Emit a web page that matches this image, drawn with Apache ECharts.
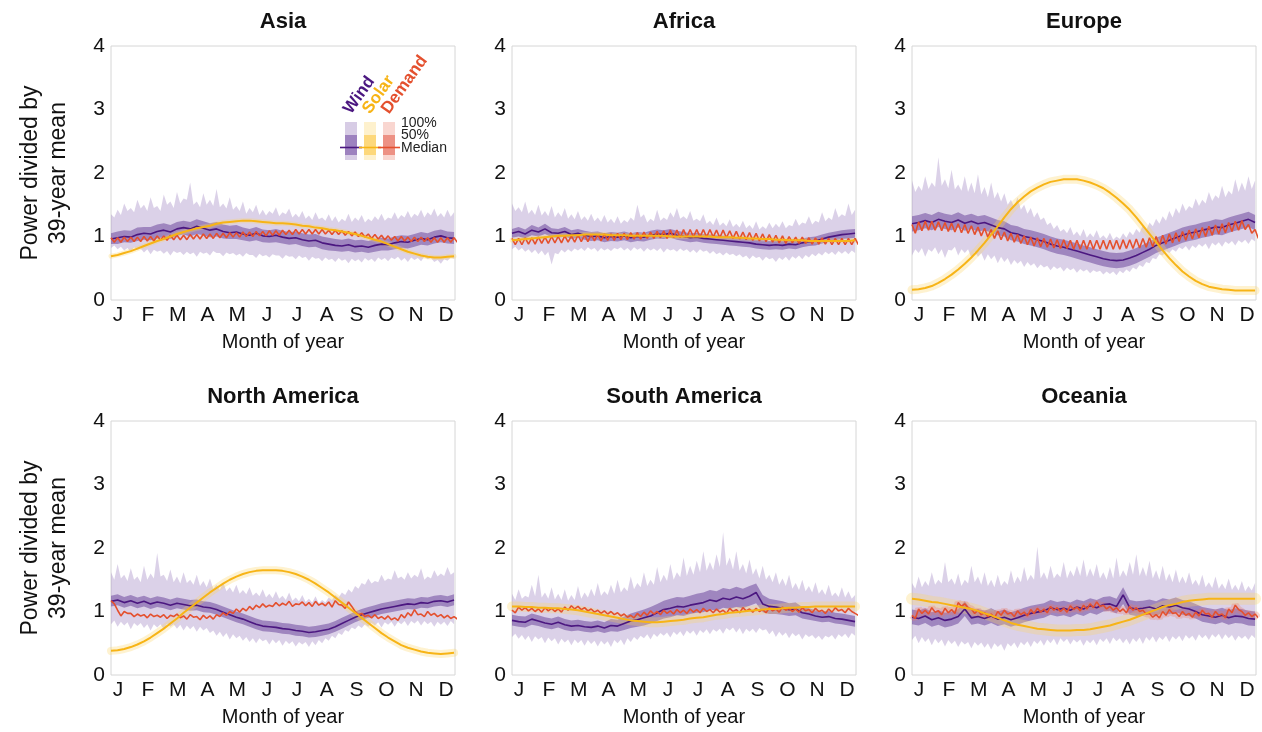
<!DOCTYPE html>
<html><head><meta charset="utf-8">
<script src="https://cdn.jsdelivr.net/npm/echarts@6/dist/echarts.min.js"></script>
<style>html,body{margin:0;padding:0;background:#fff}#c{width:1262px;height:732px}</style>
</head><body><div id="c"></div>
<script>
// ---------- tick labels / names ----------
const months = ['J','F','M','A','M','J','J','A','S','O','N','D'];
const regions = ['Asia','Africa','Europe','North America','South America','Oceania'];
const yName = 'Power divided by\n39-year mean';
const xName = 'Month of year';
// weekly values: day 0, 7, ... 364 (53 values). "Mid" arrays / demand dips sit half a week later (day 7i+3.5).

// ---------- Asia ----------
const asiaWindMed = [.96,.98,1.00,.99,1.03,1.05,1.04,1.08,1.10,1.07,
 1.12,1.14,1.12,1.16,1.13,1.10,1.12,1.08,1.06,1.07,
 1.04,1.02,1.05,1.01,1.00,1.02,.99,.97,.98,.95,
 .93,.94,.90,.88,.86,.85,.87,.84,.85,.83,
 .86,.88,.87,.90,.92,.91,.94,.97,.95,.99,
 1.01,.98,.97];
const asiaWindLo50 = [.88,.88,.91,.90,.93,.95,.94,.97,.99,.96,
 1.01,1.03,1.00,1.04,1.02,.99,1.00,.97,.96,.96,
 .94,.92,.94,.91,.90,.91,.89,.87,.88,.85,
 .83,.84,.80,.78,.77,.76,.77,.75,.76,.74,
 .76,.78,.78,.80,.82,.81,.84,.87,.86,.89,
 .91,.89,.88];
const asiaWindHi50 = [1.05,1.08,1.10,1.09,1.14,1.15,1.15,1.19,1.21,1.18,
 1.23,1.25,1.23,1.27,1.24,1.21,1.23,1.19,1.17,1.18,
 1.14,1.12,1.15,1.11,1.10,1.12,1.09,1.07,1.08,1.05,
 1.03,1.04,1.00,.98,.96,.95,.97,.94,.95,.93,
 .96,.98,.97,1.00,1.02,1.01,1.04,1.07,1.05,1.09,
 1.11,1.08,1.07];
const asiaWindLo100 = [.82,.80,.78,.76,.79,.75,.72,.76,.73,.70,
 .74,.71,.72,.68,.73,.70,.74,.69,.72,.70,
 .68,.71,.66,.69,.67,.70,.65,.68,.64,.66,
 .62,.65,.61,.63,.60,.62,.58,.61,.59,.62,
 .60,.63,.61,.64,.62,.60,.63,.61,.64,.60,
 .57,.62,.65];
const asiaWindLo100Mid = [.86,.84,.82,.83,.81,.80,.79,.78,.77,.77,
 .76,.76,.75,.76,.75,.77,.74,.75,.74,.73,
 .74,.71,.73,.71,.72,.70,.71,.69,.70,.68,
 .68,.66,.67,.65,.66,.64,.65,.64,.66,.65,
 .67,.66,.67,.68,.66,.67,.66,.68,.66,.63,
 .64,.67];
const asiaWindHi100 = [1.35,1.42,1.52,1.45,1.58,1.50,1.62,1.48,1.66,1.55,
 1.70,1.60,1.85,1.55,1.68,1.58,1.75,1.52,1.62,1.48,
 1.55,1.45,1.50,1.42,1.40,1.46,1.38,1.44,1.36,1.40,
 1.33,1.38,1.30,1.35,1.32,1.28,1.36,1.30,1.34,1.28,
 1.32,1.36,1.30,1.38,1.34,1.40,1.36,1.42,1.38,1.44,
 1.37,1.42,1.38];
const asiaWindHi100Mid = [1.30,1.34,1.40,1.38,1.44,1.40,1.45,1.40,1.50,1.45,
 1.52,1.58,1.50,1.46,1.50,1.48,1.46,1.44,1.42,1.40,
 1.36,1.38,1.34,1.33,1.36,1.32,1.35,1.30,1.30,1.28,
 1.26,1.27,1.25,1.24,1.22,1.24,1.23,1.25,1.22,1.24,
 1.26,1.25,1.28,1.27,1.30,1.29,1.32,1.30,1.33,1.31,
 1.30,1.31];
const asiaSolar = [.69,.71,.74,.77,.81,.85,.89,.93,.96,1.00,
 1.04,1.07,1.10,1.13,1.15,1.17,1.20,1.22,1.23,1.24,
 1.25,1.25,1.24,1.23,1.22,1.21,1.21,1.20,1.19,1.17,
 1.16,1.14,1.13,1.11,1.10,1.08,1.06,1.04,1.01,.98,
 .95,.92,.88,.84,.80,.76,.73,.70,.68,.67,
 .67,.68,.69];
const asiaDemandPeak = [.98,.98,.99,.99,.99,1.00,1.00,1.01,1.01,1.02,
 1.02,1.02,1.03,1.03,1.04,1.04,1.05,1.05,1.06,1.06,
 1.07,1.07,1.08,1.08,1.09,1.09,1.10,1.10,1.11,1.11,
 1.11,1.11,1.11,1.10,1.10,1.09,1.08,1.07,1.06,1.04,
 1.03,1.02,1.01,1.00,1.00,.99,.99,.99,.98,.98,
 .98,.98,.98];
const asiaDemandDip = [.91,.91,.92,.92,.92,.93,.93,.94,.94,.95,
 .95,.95,.96,.96,.97,.97,.98,.98,.99,.99,
 1.00,1.00,1.01,1.01,1.02,1.02,1.03,1.03,1.04,1.04,
 1.04,1.04,1.04,1.03,1.03,1.02,1.01,1.00,.99,.97,
 .96,.95,.94,.93,.93,.92,.92,.92,.91,.91,
 .91,.91,.91];

// ---------- Africa ----------
const africaWindMed = [1.05,1.08,1.04,1.10,1.07,1.12,1.06,1.05,1.08,1.03,
 1.05,1.02,1.00,1.01,.98,1.00,.99,1.01,.98,1.00,
 .99,1.02,1.04,1.03,1.05,1.02,1.00,.98,.99,.97,
 .96,.95,.94,.93,.92,.91,.90,.88,.87,.86,
 .87,.86,.88,.87,.90,.92,.93,.96,.99,1.01,
 1.03,1.04,1.05];
const africaWindLo50 = [.98,1.00,.97,1.02,1.00,1.04,.99,.98,1.00,.96,
 .98,.95,.93,.94,.91,.93,.92,.94,.91,.93,
 .92,.95,.97,.96,.98,.95,.93,.91,.92,.90,
 .89,.88,.87,.86,.85,.84,.83,.81,.80,.79,
 .80,.79,.81,.80,.83,.85,.86,.89,.92,.94,
 .96,.97,.98];
const africaWindHi50 = [1.12,1.15,1.11,1.18,1.14,1.20,1.13,1.12,1.15,1.10,
 1.12,1.09,1.07,1.08,1.05,1.07,1.06,1.08,1.05,1.07,
 1.06,1.09,1.11,1.10,1.12,1.09,1.07,1.05,1.06,1.04,
 1.03,1.02,1.01,1.00,.99,.98,.97,.95,.94,.93,
 .94,.93,.95,.94,.97,.99,1.00,1.03,1.06,1.08,
 1.10,1.11,1.12];
const africaWindLo100 = [.80,.78,.76,.74,.72,.70,.56,.72,.75,.76,
 .78,.77,.79,.76,.78,.77,.80,.78,.77,.79,
 .76,.78,.77,.75,.78,.76,.77,.75,.74,.76,
 .73,.72,.70,.71,.69,.67,.64,.66,.62,.64,
 .60,.63,.62,.65,.64,.67,.69,.70,.72,.71,
 .73,.72,.74];
const africaWindLo100Mid = [.84,.82,.80,.79,.78,.76,.74,.79,.80,.81,
 .82,.83,.82,.82,.81,.82,.83,.82,.83,.82,
 .82,.81,.82,.81,.80,.81,.80,.79,.80,.78,
 .77,.75,.75,.73,.72,.70,.70,.68,.68,.66,
 .67,.68,.69,.70,.71,.73,.74,.76,.76,.77,
 .77,.78];
const africaWindHi100 = [1.52,1.46,1.55,1.42,1.50,1.40,1.48,1.38,1.45,1.35,
 1.40,1.32,1.36,1.30,1.34,1.28,1.32,1.26,1.30,1.50,
 1.35,1.28,1.42,1.30,1.38,1.45,1.32,1.40,1.28,1.35,
 1.25,1.30,1.22,1.27,1.20,1.25,1.18,1.24,1.16,1.22,
 1.20,1.24,1.18,1.28,1.22,1.32,1.25,1.38,1.30,1.45,
 1.35,1.52,1.42];
const africaWindHi100Mid = [1.40,1.38,1.36,1.34,1.33,1.32,1.30,1.31,1.28,1.27,
 1.26,1.25,1.24,1.23,1.22,1.21,1.20,1.22,1.25,1.30,
 1.22,1.24,1.25,1.26,1.30,1.28,1.27,1.25,1.24,1.20,
 1.18,1.17,1.16,1.15,1.14,1.13,1.12,1.11,1.12,1.13,
 1.14,1.13,1.16,1.17,1.20,1.19,1.22,1.24,1.26,1.30,
 1.32,1.34];
const africaSolar = [.94,.95,.96,.97,.98,.99,1.00,1.01,1.01,1.02,
 1.02,1.03,1.03,1.03,1.03,1.02,1.02,1.02,1.01,1.01,
 1.01,1.01,1.01,1.01,1.00,1.00,1.00,1.00,1.00,1.00,
 1.00,.99,.99,.99,.98,.98,.97,.97,.96,.96,
 .95,.95,.94,.94,.94,.93,.93,.93,.93,.93,
 .93,.93,.94];
const africaDemandPeak = [.97,.97,.98,.98,.99,.99,1.00,1.00,1.01,1.01,
 1.02,1.02,1.03,1.03,1.04,1.04,1.05,1.05,1.06,1.06,
 1.07,1.07,1.08,1.09,1.10,1.10,1.11,1.11,1.11,1.11,
 1.11,1.10,1.10,1.09,1.08,1.07,1.06,1.05,1.04,1.03,
 1.02,1.01,1.00,.99,.99,.98,.98,.98,.97,.97,
 .97,.97,.97];
const africaDemandDip = [.87,.87,.88,.88,.89,.89,.90,.90,.91,.91,
 .92,.92,.93,.93,.94,.94,.95,.95,.96,.96,
 .97,.97,.98,.97,.98,.98,.99,.99,.99,.99,
 .99,.98,.98,.97,.96,.95,.94,.93,.92,.91,
 .90,.89,.90,.89,.89,.88,.88,.88,.87,.87,
 .87,.87,.87];

// ---------- Europe ----------
const europeWindMed = [1.20,1.22,1.25,1.22,1.27,1.24,1.22,1.26,1.21,1.24,
 1.20,1.22,1.18,1.14,1.12,1.06,1.04,1.00,.98,.95,
 .92,.88,.85,.83,.80,.77,.74,.71,.68,.65,
 .63,.62,.63,.66,.70,.75,.80,.86,.90,.94,
 .98,1.02,1.05,1.07,1.10,1.12,1.15,1.14,1.18,1.21,
 1.24,1.27,1.22];
const europeWindLo50 = [1.08,1.10,1.13,1.10,1.15,1.12,1.10,1.14,1.09,1.12,
 1.08,1.10,1.06,1.02,1.00,.94,.92,.88,.86,.83,
 .80,.76,.73,.71,.68,.65,.62,.59,.56,.53,
 .51,.50,.51,.54,.58,.63,.68,.74,.78,.82,
 .86,.90,.93,.95,.98,1.00,1.03,1.02,1.06,1.09,
 1.12,1.15,1.10];
const europeWindHi50 = [1.32,1.34,1.37,1.34,1.39,1.36,1.34,1.38,1.33,1.36,
 1.32,1.34,1.30,1.26,1.24,1.18,1.16,1.12,1.10,1.07,
 1.04,1.00,.97,.95,.92,.89,.86,.83,.80,.77,
 .75,.74,.75,.78,.82,.87,.92,.98,1.02,1.06,
 1.10,1.14,1.17,1.19,1.22,1.24,1.27,1.26,1.30,1.33,
 1.36,1.39,1.34];
const europeWindLo100 = [.70,.74,.68,.76,.72,.66,.78,.70,.74,.66,
 .68,.62,.64,.58,.60,.55,.57,.52,.54,.50,
 .51,.47,.49,.45,.47,.43,.45,.42,.44,.40,
 .41,.39,.42,.44,.48,.52,.58,.64,.70,.74,
 .76,.80,.78,.82,.84,.80,.86,.84,.88,.86,
 .90,.88,.92];
const europeWindLo100Mid = [.80,.82,.80,.83,.80,.79,.84,.80,.80,.76,
 .74,.72,.70,.68,.66,.63,.62,.60,.58,.56,
 .54,.53,.52,.51,.50,.49,.48,.47,.46,.45,
 .45,.46,.48,.51,.55,.60,.66,.72,.77,.80,
 .83,.85,.86,.88,.89,.90,.91,.92,.93,.94,
 .95,.96];
const europeWindHi100 = [1.88,1.80,1.95,1.85,2.25,1.90,2.05,1.82,1.95,1.85,
 1.98,1.78,1.85,1.70,1.68,1.58,1.62,1.50,1.45,1.38,
 1.30,1.22,1.18,1.12,1.15,1.08,1.12,1.05,1.10,1.02,
 1.06,1.00,1.05,1.08,1.12,1.18,1.22,1.28,1.32,1.40,
 1.45,1.52,1.48,1.60,1.58,1.70,1.65,1.80,1.72,1.90,
 1.85,1.95,1.88];
const europeWindHi100Mid = [1.70,1.72,1.75,1.78,1.80,1.76,1.74,1.72,1.70,1.68,
 1.66,1.62,1.60,1.55,1.50,1.46,1.42,1.36,1.30,1.26,
 1.18,1.12,1.08,1.05,1.02,1.00,.98,.99,.97,.96,
 .95,.96,.98,1.02,1.06,1.10,1.16,1.20,1.25,1.30,
 1.36,1.40,1.44,1.48,1.52,1.56,1.60,1.62,1.66,1.70,
 1.72,1.75];
const europeSolar = [.16,.17,.19,.22,.27,.33,.40,.48,.57,.67,
 .78,.90,1.03,1.16,1.30,1.43,1.54,1.63,1.71,1.77,
 1.82,1.86,1.88,1.90,1.90,1.90,1.88,1.85,1.81,1.76,
 1.69,1.61,1.52,1.42,1.30,1.17,1.04,.91,.78,.66,
 .55,.45,.37,.30,.25,.21,.19,.17,.16,.15,
 .15,.15,.15];
const europeDemandPeak = [1.19,1.23,1.24,1.24,1.23,1.22,1.21,1.20,1.19,1.17,
 1.15,1.13,1.11,1.09,1.07,1.05,1.03,1.01,.99,.98,
 .97,.96,.95,.95,.94,.94,.94,.94,.94,.94,
 .94,.94,.95,.95,.96,.97,.98,1.00,1.02,1.04,
 1.06,1.08,1.10,1.12,1.14,1.16,1.18,1.20,1.22,1.24,
 1.25,1.19,1.11];
const europeDemandDip = [1.05,1.09,1.10,1.10,1.09,1.08,1.07,1.06,1.05,1.03,
 1.01,.99,.97,.95,.93,.91,.89,.87,.85,.84,
 .83,.82,.81,.81,.80,.80,.80,.80,.80,.80,
 .80,.80,.81,.81,.82,.83,.84,.86,.88,.90,
 .92,.94,.96,.98,1.00,1.02,1.04,1.06,1.08,1.10,
 1.11,1.05,.97];

// ---------- North America ----------
const naWindMed = [1.16,1.18,1.14,1.17,1.13,1.16,1.12,1.15,1.13,1.10,
 1.13,1.11,1.09,1.10,1.07,1.06,1.03,.99,.95,.91,
 .88,.84,.80,.77,.76,.75,.73,.72,.70,.69,
 .67,.68,.70,.72,.76,.81,.86,.91,.95,.98,
 1.01,1.04,1.06,1.08,1.10,1.12,1.11,1.14,1.13,1.16,
 1.17,1.15,1.18];
const naWindLo50 = [1.08,1.10,1.06,1.09,1.05,1.08,1.04,1.07,1.05,1.02,
 1.05,1.03,1.01,1.02,.99,.98,.95,.91,.87,.83,
 .80,.76,.72,.69,.68,.67,.65,.64,.62,.61,
 .59,.60,.62,.64,.68,.73,.78,.83,.87,.90,
 .93,.96,.98,1.00,1.02,1.04,1.03,1.06,1.05,1.08,
 1.09,1.07,1.10];
const naWindHi50 = [1.25,1.27,1.23,1.26,1.22,1.25,1.21,1.24,1.22,1.19,
 1.22,1.20,1.18,1.19,1.16,1.15,1.12,1.08,1.04,1.00,
 .97,.93,.89,.86,.85,.84,.82,.81,.79,.78,
 .76,.77,.79,.81,.85,.90,.95,1.00,1.04,1.07,
 1.10,1.13,1.15,1.17,1.19,1.21,1.20,1.23,1.22,1.25,
 1.26,1.24,1.27];
const naWindLo100 = [.80,.76,.78,.72,.77,.74,.70,.75,.72,.76,
 .73,.70,.72,.68,.70,.66,.62,.60,.56,.58,
 .54,.52,.50,.53,.48,.50,.46,.49,.45,.48,
 .44,.47,.50,.54,.58,.63,.68,.72,.74,.76,
 .78,.75,.79,.76,.80,.77,.81,.78,.80,.76,
 .79,.77,.80];
const naWindLo100Mid = [.86,.84,.83,.82,.82,.80,.80,.80,.81,.80,
 .79,.78,.77,.76,.74,.70,.68,.66,.64,.62,
 .60,.58,.58,.56,.56,.55,.54,.53,.52,.52,
 .53,.55,.58,.62,.66,.71,.75,.78,.80,.82,
 .83,.83,.84,.84,.85,.85,.86,.85,.84,.84,
 .84,.85];
const naWindHi100 = [1.62,1.75,1.58,1.68,1.55,1.72,1.60,1.92,1.58,1.66,
 1.55,1.62,1.50,1.58,1.48,1.52,1.42,1.46,1.38,1.42,
 1.34,1.38,1.30,1.35,1.28,1.32,1.25,1.30,1.22,1.26,
 1.20,1.24,1.18,1.22,1.26,1.30,1.35,1.40,1.45,1.52,
 1.48,1.58,1.52,1.65,1.55,1.62,1.58,1.68,1.55,1.65,
 1.60,1.70,1.62];
const naWindHi100Mid = [1.50,1.52,1.48,1.50,1.46,1.50,1.52,1.55,1.48,1.46,
 1.44,1.45,1.42,1.40,1.38,1.36,1.34,1.32,1.30,1.28,
 1.27,1.25,1.24,1.22,1.21,1.20,1.18,1.17,1.16,1.15,
 1.14,1.13,1.14,1.18,1.22,1.26,1.30,1.36,1.42,1.44,
 1.46,1.48,1.50,1.52,1.50,1.52,1.54,1.50,1.52,1.55,
 1.56,1.58];
const naSolar = [.38,.39,.41,.44,.48,.53,.59,.66,.73,.81,
 .89,.98,1.06,1.14,1.22,1.30,1.37,1.44,1.50,1.55,
 1.59,1.62,1.64,1.65,1.65,1.65,1.64,1.62,1.59,1.55,
 1.50,1.44,1.37,1.30,1.22,1.14,1.06,.98,.90,.82,
 .74,.66,.59,.53,.47,.43,.40,.37,.35,.34,
 .33,.34,.35];
const naDemandPeak = [1.17,1.02,1.00,.97,.96,.95,.96,.94,.95,.94,
 .96,.93,.95,.92,.94,.93,.95,.98,1.00,1.04,
 1.05,1.08,1.10,1.12,1.10,1.14,1.13,1.16,1.12,1.15,
 1.14,1.16,1.13,1.15,1.17,1.10,1.15,1.00,.97,.94,
 .95,.92,.93,.90,.95,.98,1.03,.96,1.00,.97,
 .95,.94,.92];
const naDemandDip = [1.12,.93,.97,.92,.93,.90,.92,.91,.89,.92,
 .90,.88,.91,.87,.89,.88,.92,.94,.97,.99,
 1.01,1.03,1.06,1.07,1.08,1.09,1.10,1.08,1.11,1.09,
 1.08,1.10,1.09,1.07,1.11,1.05,1.08,.95,.92,.90,
 .89,.88,.87,.86,.90,.93,.95,.92,.94,.92,
 .90,.89,.88];

// ---------- South America ----------
const saWindMed = [.86,.84,.83,.88,.85,.82,.80,.83,.79,.77,
 .78,.76,.75,.77,.74,.78,.77,.81,.85,.87,
 .90,.93,.98,1.03,1.05,1.08,1.07,1.10,1.12,1.14,
 1.18,1.16,1.21,1.19,1.23,1.20,1.24,1.30,1.12,1.08,
 1.07,1.05,1.03,1.04,.98,.96,.93,.91,.92,.89,
 .88,.86,.84];
const saWindLo50 = [.78,.76,.75,.79,.77,.74,.72,.75,.71,.69,
 .70,.68,.67,.69,.66,.69,.68,.71,.74,.76,
 .78,.81,.85,.89,.91,.94,.93,.96,.98,.99,
 1.03,1.01,1.06,1.04,1.07,1.05,1.09,1.13,.99,.96,
 .96,.95,.93,.94,.89,.87,.85,.83,.84,.81,
 .80,.78,.76];
const saWindHi50 = [.95,.93,.92,.97,.94,.91,.89,.92,.88,.86,
 .87,.85,.84,.86,.83,.88,.87,.92,.97,1.00,
 1.03,1.07,1.12,1.17,1.20,1.23,1.22,1.25,1.28,1.30,
 1.34,1.32,1.37,1.35,1.39,1.36,1.40,1.44,1.26,1.20,
 1.18,1.16,1.13,1.14,1.07,1.05,1.02,1.00,1.01,.98,
 .97,.95,.93];
const saWindLo100 = [.60,.57,.55,.52,.56,.50,.53,.48,.51,.47,
 .50,.46,.49,.45,.48,.44,.50,.47,.52,.55,
 .58,.56,.60,.62,.59,.63,.61,.65,.62,.66,
 .64,.68,.65,.70,.67,.64,.68,.66,.70,.64,
 .60,.62,.58,.61,.56,.60,.57,.55,.59,.56,
 .60,.58,.62];
const saWindLo100Mid = [.65,.63,.62,.61,.60,.59,.58,.57,.56,.56,
 .55,.55,.54,.54,.53,.55,.56,.58,.60,.62,
 .64,.65,.66,.67,.68,.69,.70,.70,.71,.72,
 .72,.73,.74,.75,.74,.73,.73,.74,.72,.70,
 .68,.67,.66,.65,.64,.63,.62,.62,.63,.64,
 .65,.66];
const saWindHi100 = [1.28,1.35,1.25,1.42,1.58,1.30,1.38,1.28,1.35,1.26,
 1.40,1.30,1.36,1.45,1.32,1.42,1.50,1.38,1.55,1.45,
 1.62,1.50,1.70,1.58,1.75,1.62,1.85,1.72,1.80,1.95,
 1.78,1.90,2.25,1.85,1.95,1.75,1.82,1.68,1.72,1.58,
 1.62,1.52,1.58,1.45,1.50,1.40,1.46,1.35,1.42,1.30,
 1.38,1.32,1.26];
const saWindHi100Mid = [1.18,1.20,1.22,1.24,1.22,1.20,1.19,1.18,1.17,1.18,
 1.20,1.22,1.24,1.25,1.26,1.28,1.30,1.32,1.35,1.38,
 1.40,1.42,1.46,1.48,1.50,1.54,1.56,1.58,1.62,1.64,
 1.65,1.70,1.72,1.66,1.64,1.60,1.58,1.52,1.50,1.46,
 1.42,1.40,1.36,1.34,1.32,1.30,1.28,1.26,1.24,1.23,
 1.22,1.20];
const saSolar = [1.08,1.08,1.07,1.07,1.06,1.06,1.05,1.05,1.04,1.03,
 1.02,1.00,.98,.96,.94,.92,.90,.88,.86,.85,
 .84,.83,.83,.84,.85,.86,.87,.89,.90,.91,
 .93,.95,.96,.98,.99,1.00,1.01,1.02,1.03,1.04,
 1.04,1.05,1.06,1.06,1.07,1.07,1.08,1.08,1.08,1.08,
 1.08,1.08,1.08];
const saDemandPeak = [1.02,1.07,1.06,1.05,1.04,1.06,1.05,1.04,1.07,1.09,
 1.08,1.06,1.04,1.02,1.01,1.00,.98,.96,.94,.97,
 .99,1.01,1.00,1.02,1.01,1.03,1.02,1.04,1.03,1.05,
 1.03,1.04,1.02,1.05,1.03,1.06,1.04,1.05,1.03,1.06,
 1.04,1.07,1.05,1.04,1.06,1.03,1.05,1.02,1.04,1.06,
 1.03,1.05,.97];
const saDemandDip = [.98,1.02,1.01,1.00,.99,1.01,1.00,.99,1.02,1.04,
 1.03,1.01,.99,.97,.96,.95,.93,.91,.90,.92,
 .94,.96,.95,.97,.96,.98,.97,.99,.98,1.00,
 .98,.99,.97,1.00,.98,1.01,.99,1.00,.98,1.01,
 .99,1.02,1.00,.99,1.01,.98,1.00,.97,.99,1.01,
 .98,1.00,.94];

// ---------- Oceania ----------
const ocWindMed = [.91,.89,.93,.87,.90,.86,.88,.92,1.04,.90,
 .92,.89,.93,.88,.91,.87,.90,.94,.97,.99,
 1.01,1.06,1.03,1.05,1.02,1.07,1.04,1.09,1.06,1.11,
 1.12,1.08,1.26,1.06,1.04,1.05,1.07,1.04,1.09,1.07,
 1.10,1.06,1.04,1.00,.95,.93,.91,.94,.90,.93,
 .92,.89,.88];
const ocWindLo50 = [.80,.78,.82,.76,.79,.75,.77,.81,.93,.79,
 .81,.78,.82,.77,.80,.76,.79,.83,.86,.88,
 .90,.95,.92,.94,.91,.96,.93,.98,.95,1.00,
 1.01,.97,1.12,.95,.93,.94,.96,.93,.98,.96,
 .99,.95,.93,.89,.84,.82,.80,.83,.79,.82,
 .81,.78,.77];
const ocWindHi50 = [1.03,1.01,1.05,.99,1.02,.98,1.00,1.04,1.16,1.02,
 1.04,1.01,1.05,1.00,1.03,.99,1.02,1.06,1.09,1.11,
 1.13,1.18,1.15,1.17,1.14,1.19,1.16,1.21,1.18,1.23,
 1.24,1.20,1.38,1.18,1.16,1.17,1.19,1.16,1.21,1.19,
 1.22,1.18,1.16,1.12,1.07,1.05,1.03,1.06,1.02,1.05,
 1.04,1.01,1.00];
const ocWindLo100 = [.55,.50,.52,.47,.50,.45,.49,.44,.48,.42,
 .46,.43,.40,.44,.38,.45,.42,.47,.44,.49,
 .46,.50,.47,.52,.48,.51,.46,.50,.47,.52,
 .49,.53,.50,.48,.52,.49,.54,.51,.55,.52,
 .56,.53,.57,.54,.58,.55,.59,.56,.58,.54,
 .57,.55,.58];
const ocWindLo100Mid = [.62,.60,.58,.57,.56,.55,.54,.53,.52,.52,
 .51,.50,.50,.49,.50,.51,.52,.53,.54,.55,
 .56,.57,.58,.57,.56,.56,.55,.56,.57,.58,
 .59,.58,.57,.58,.59,.60,.61,.60,.62,.61,
 .62,.63,.62,.64,.63,.64,.65,.64,.63,.62,
 .62,.63];
const ocWindHi100 = [1.45,1.55,1.48,1.62,1.50,1.78,1.52,1.60,1.50,1.72,
 1.55,1.62,1.50,1.58,1.48,1.65,1.55,1.70,1.58,2.02,
 1.62,1.72,1.60,1.78,1.65,1.72,1.82,1.68,1.75,1.62,
 1.70,1.85,1.65,1.78,1.90,1.70,1.80,1.65,1.72,1.60,
 1.66,1.55,1.62,1.50,1.58,1.46,1.55,1.44,1.52,1.42,
 1.48,1.40,1.45];
const ocWindHi100Mid = [1.36,1.38,1.40,1.42,1.44,1.46,1.42,1.40,1.44,1.46,
 1.42,1.40,1.38,1.40,1.42,1.44,1.46,1.48,1.50,1.52,
 1.50,1.52,1.54,1.52,1.55,1.56,1.54,1.55,1.52,1.50,
 1.52,1.54,1.55,1.58,1.56,1.55,1.52,1.50,1.48,1.46,
 1.45,1.44,1.42,1.40,1.38,1.37,1.36,1.35,1.34,1.33,
 1.32,1.33];
const ocSolar = [1.20,1.19,1.17,1.15,1.14,1.12,1.10,1.08,1.06,1.04,
 1.01,.97,.94,.90,.86,.82,.79,.77,.75,.73,
 .72,.71,.70,.70,.70,.71,.71,.72,.74,.76,
 .78,.81,.84,.87,.91,.95,.99,1.03,1.07,1.10,
 1.12,1.15,1.17,1.18,1.19,1.20,1.20,1.20,1.20,1.20,
 1.20,1.20,1.20];
const ocDemandPeak = [.94,1.04,1.02,1.06,1.01,1.05,1.03,1.14,1.12,1.04,
 1.02,.98,.96,1.00,1.02,.98,1.01,.99,1.03,1.05,
 1.04,1.08,1.06,1.05,1.09,1.07,1.10,1.12,1.15,1.10,
 1.08,1.06,1.04,1.08,1.06,1.02,.97,.95,1.00,1.03,
 .98,1.00,.97,.99,1.02,.97,1.00,.96,1.04,1.10,
 1.00,.98,.96];
const ocDemandDip = [.89,.97,.96,.99,.95,.98,.97,1.08,1.06,.97,
 .95,.92,.90,.94,.96,.92,.95,.93,.97,.99,
 .98,1.02,1.00,.99,1.03,1.01,1.04,1.06,1.08,1.04,
 1.02,1.00,.98,1.02,1.00,.96,.91,.90,.94,.97,
 .92,.94,.91,.93,.96,.91,.94,.90,.98,1.03,
 .94,.92,.90];

// ---------- layout / styling ----------
const FONT = '"Liberation Sans", Arial, Helvetica, sans-serif';
const C = {
  wind: '#4b1780', solar: '#f7b416', demand: '#e4502e',
  w100: 'rgba(156,128,190,0.36)', w50: 'rgba(100,60,150,0.5)',
  solarBand: 'rgba(252,212,100,0.30)', demandBand: 'rgba(236,120,100,0.30)'
};
const panelDefs = [
  {name: regions[0], left: 111, top: 46, w: asiaWindMed, lo50: asiaWindLo50, hi50: asiaWindHi50, lo100: asiaWindLo100, lo100m: asiaWindLo100Mid, hi100: asiaWindHi100, hi100m: asiaWindHi100Mid, s: asiaSolar, dp: asiaDemandPeak, dd: asiaDemandDip, sw: 5, dw: 0},
  {name: regions[1], left: 512, top: 46, w: africaWindMed, lo50: africaWindLo50, hi50: africaWindHi50, lo100: africaWindLo100, lo100m: africaWindLo100Mid, hi100: africaWindHi100, hi100m: africaWindHi100Mid, s: africaSolar, dp: africaDemandPeak, dd: africaDemandDip, sw: 5, dw: 0},
  {name: regions[2], left: 912, top: 46, w: europeWindMed, lo50: europeWindLo50, hi50: europeWindHi50, lo100: europeWindLo100, lo100m: europeWindLo100Mid, hi100: europeWindHi100, hi100m: europeWindHi100Mid, s: europeSolar, dp: europeDemandPeak, dd: europeDemandDip, sw: 9, dw: 0},
  {name: regions[3], left: 111, top: 421, w: naWindMed, lo50: naWindLo50, hi50: naWindHi50, lo100: naWindLo100, lo100m: naWindLo100Mid, hi100: naWindHi100, hi100m: naWindHi100Mid, s: naSolar, dp: naDemandPeak, dd: naDemandDip, sw: 8, dw: 0},
  {name: regions[4], left: 512, top: 421, w: saWindMed, lo50: saWindLo50, hi50: saWindHi50, lo100: saWindLo100, lo100m: saWindLo100Mid, hi100: saWindHi100, hi100m: saWindHi100Mid, s: saSolar, dp: saDemandPeak, dd: saDemandDip, sw: 10, dw: 0},
  {name: regions[5], left: 912, top: 421, w: ocWindMed, lo50: ocWindLo50, hi50: ocWindHi50, lo100: ocWindLo100, lo100m: ocWindLo100Mid, hi100: ocWindHi100, hi100m: ocWindHi100Mid, s: ocSolar, dp: ocDemandPeak, dd: ocDemandDip, sw: 12, dw: 7}
];
const PW = 344, PH = 254;

const weekly = arr => arr.map((v, i) => [i * 7, v]);
// weekly values followed by the half-week values that sit between them
const halfWeekly = (a, mid) => { const out = []; a.forEach((v, i) => { out.push([i * 7, v]); if (i < mid.length) out.push([i * 7 + 3.5, mid[i]]); }); return out; };

const grid = [], xAxis = [], yAxis = [], series = [], title = [];
panelDefs.forEach((p, k) => {
  const g = 2 * k, gl = 2 * k + 1;
  grid.push({left: p.left, top: p.top, width: PW, height: PH, show: true, borderColor: '#d6d6d6', borderWidth: 1, backgroundColor: '#fff'});
  grid.push({left: p.left + 7, top: p.top, width: PW - 16, height: PH});
  xAxis.push({gridIndex: g, type: 'value', min: 0, max: 365,
    axisLine: {show: false}, axisTick: {show: false}, axisLabel: {show: false}, splitLine: {show: false},
    name: xName, nameLocation: 'middle', nameGap: 32, nameTextStyle: {fontSize: 20, color: '#111', fontFamily: FONT}});
  xAxis.push({gridIndex: gl, type: 'category', data: months.map((m, i) => String(i)), boundaryGap: false,
    axisLine: {show: false}, axisTick: {show: false}, splitLine: {show: false},
    axisLabel: {interval: 0, margin: 5, fontSize: 21, color: '#111', fontFamily: FONT, formatter: (v, i) => months[i]}});
  const ya = {gridIndex: g, type: 'value', min: 0, max: 4, interval: 1,
    axisLine: {show: false}, axisTick: {show: false}, splitLine: {show: false},
    axisLabel: {margin: 6, fontSize: 21, color: '#111', fontFamily: FONT}};
  if (p.left < 200) Object.assign(ya, {name: yName, nameLocation: 'middle', nameGap: 38,
    nameTextStyle: {fontSize: 23, lineHeight: 28, color: '#111', fontFamily: FONT}});
  yAxis.push(ya);
  yAxis.push({gridIndex: gl, type: 'value', min: 0, max: 4, show: false});
  title.push({text: p.name, left: p.left + PW / 2, top: p.top - 35, textAlign: 'center', padding: 0,
    textStyle: {fontSize: 22, fontWeight: 'bold', color: '#111', fontFamily: FONT}});

  const base = {xAxisIndex: g, yAxisIndex: g, silent: true, animation: false};
  // filled band between a low edge and a high edge, drawn as one polygon through the axis scales
  const band = (loPts, hiPts, color) => series.push(Object.assign({}, base, {
    type: 'custom', data: hiPts.concat(loPts), encode: {x: 0, y: 1},
    renderItem: (params, api) => {
      if (params.dataIndex !== 0) return null;
      const up = hiPts.map(pt => api.coord(pt));
      const dn = loPts.map(pt => api.coord(pt)).reverse();
      return {type: 'polygon', shape: {points: up.concat(dn)}, style: {fill: color}};
    }}));
  band(halfWeekly(p.lo100, p.lo100m), halfWeekly(p.hi100, p.hi100m), C.w100);
  band(weekly(p.lo50), weekly(p.hi50), C.w50);
  const line = Object.assign({}, base, {type: 'line', symbol: 'none', showSymbol: false});
  series.push(Object.assign({}, line, {data: weekly(p.s), lineStyle: {color: C.solarBand, width: p.sw, cap: 'round', join: 'round'}}));
  if (p.dw) series.push(Object.assign({}, line, {data: halfWeekly(p.dp, p.dd), lineStyle: {color: C.demandBand, width: p.dw}}));
  series.push(Object.assign({}, line, {name: 'Wind', data: weekly(p.w), lineStyle: {color: C.wind, width: 1.6}}));
  series.push(Object.assign({}, line, {name: 'Demand', data: halfWeekly(p.dp, p.dd), lineStyle: {color: C.demand, width: 1.6}}));
  series.push(Object.assign({}, line, {name: 'Solar', data: weekly(p.s), lineStyle: {color: C.solar, width: 2}}));
});

// ---------- in-panel legend (Asia) ----------
const legendWords = [['Wind', C.wind, 354], ['Solar', C.solar, 373], ['Demand', C.demand, 392]];
const legendCols = [[345, 'rgba(156,128,190,0.4)', 'rgba(110,70,160,0.55)', C.wind],
                    [364, 'rgba(252,208,90,0.3)', 'rgba(252,200,70,0.6)', C.solar],
                    [383, 'rgba(236,120,100,0.3)', 'rgba(228,90,70,0.55)', C.demand]];
const graphic = [];
legendWords.forEach(([t, col, x]) => graphic.push({type: 'text', x: x, y: 117, rotation: 0.95, z: 100,
  style: {text: t, fill: col, font: 'bold 17px ' + FONT, textAlign: 'left', textVerticalAlign: 'bottom'}, silent: true}));
legendCols.forEach(([x, light, mid, ln]) => {
  graphic.push({type: 'rect', z: 100, shape: {x: x, y: 122, width: 12, height: 38}, style: {fill: light}, silent: true});
  graphic.push({type: 'rect', z: 100, shape: {x: x, y: 135, width: 12, height: 20}, style: {fill: mid}, silent: true});
  graphic.push({type: 'line', z: 101, shape: {x1: x - 5, y1: 147.5, x2: x + 17, y2: 147.5}, style: {stroke: ln, lineWidth: 1.6}, silent: true});
});
[['100%', 123], ['50%', 135.5], ['Median', 148]].forEach(([t, y]) => graphic.push({type: 'text', x: 401, y: y, z: 100,
  style: {text: t, fill: '#222', font: '14px ' + FONT, textAlign: 'left', textVerticalAlign: 'middle'}, silent: true}));

const chart = echarts.init(document.getElementById('c'), null, {renderer: 'canvas'});
chart.setOption({animation: false, backgroundColor: '#fff', title, grid, xAxis, yAxis, series, graphic});
</script>
</body></html>
